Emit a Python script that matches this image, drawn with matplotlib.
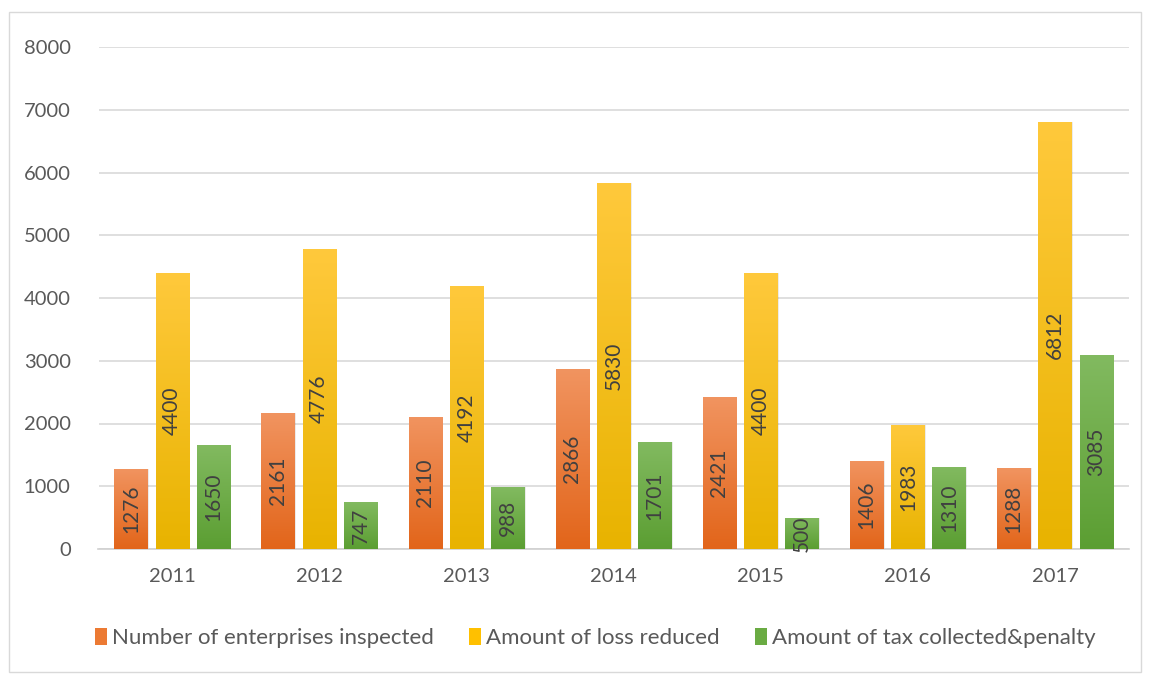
import matplotlib
matplotlib.use("Agg")
import matplotlib.pyplot as plt
import numpy as np
from matplotlib.patches import Rectangle
from matplotlib.colors import LinearSegmentedColormap

years = ["2011", "2012", "2013", "2014", "2015", "2016", "2017"]
enterprises = [1276, 2161, 2110, 2866, 2421, 1406, 1288]
loss_reduced = [4400, 4776, 4192, 5830, 4400, 1983, 6812]
tax_penalty = [1650, 747, 988, 1701, 500, 1310, 3085]
series_names = ["Number of enterprises inspected", "Amount of loss reduced",
                "Amount of tax collected&penalty"]
yticks = [0, 1000, 2000, 3000, 4000, 5000, 6000, 7000, 8000]

plt.rcParams['font.family'] = ['Lato', 'DejaVu Sans']
txt = '#595959'

fig = plt.figure(figsize=(11.51, 6.77), dpi=100)
W, H = 1151, 677
ax = fig.add_axes([98.5 / W, 1 - 549 / H, (1128.5 - 98.5) / W, (549 - 47) / H])

series = [enterprises, loss_reduced, tax_penalty]
grads = [('#E2651A', '#F19460'), ('#E8B300', '#FFC93C'), ('#5B9E32', '#82BA60')]
legend_colors = ['#EC7A33', '#FFC000', '#6AAB43']
bw = 0.225
step = 0.28
x = np.arange(len(years))

for i, (vals, (c0, c1)) in enumerate(zip(series, grads)):
    cmap = LinearSegmentedColormap.from_list('g%d' % i, [c0, c1])
    for j, v in enumerate(vals):
        xc = x[j] + (i - 1) * step
        left = xc - bw / 2
        sh = Rectangle((left + 0.01, 0), bw, v, facecolor='#000000', alpha=0.08,
                       edgecolor='none', zorder=2)
        ax.add_patch(sh)
        rect = Rectangle((left, 0), bw, v, facecolor='none', edgecolor='none', zorder=3)
        ax.add_patch(rect)
        grad = np.linspace(0, 1, 256).reshape(-1, 1)
        im = ax.imshow(grad, cmap=cmap, origin='lower', aspect='auto',
                       extent=[left, left + bw, 0, v], zorder=3)
        im.set_clip_path(rect)
        ax.text(xc, v / 2, str(v), rotation=90, ha='center', va='center',
                fontsize=15, color='#404040', zorder=5)

ax.set_xlim(-0.5, len(years) - 0.5)
ax.set_ylim(0, 8000)
ax.set_yticks(yticks)
ax.set_yticklabels([str(t) for t in yticks])
ax.set_xticks(x)
ax.set_xticklabels(years)
ax.tick_params(axis='both', length=0, labelsize=14.5, colors=txt)
ax.tick_params(axis='y', pad=20)
ax.tick_params(axis='x', pad=14)
for s in ['top', 'right', 'left']:
    ax.spines[s].set_visible(False)
ax.spines['bottom'].set_color('#D0D0D0')
ax.spines['bottom'].set_linewidth(1.2)
ax.grid(axis='y', color='#D9D9D9', linewidth=1.2, zorder=0)
ax.set_axisbelow(True)

handles = [Rectangle((0, 0), 1, 1, facecolor=c) for c in legend_colors]
fig.legend(handles, series_names, loc='center', bbox_to_anchor=(0.517, 1 - 638 / H),
           ncol=3, frameon=False, fontsize=16, labelcolor=txt,
           handlelength=0.55, handleheight=0.8, handletextpad=0.2, columnspacing=1.6)

border = Rectangle((9 / W, 1 - 672 / H), (1141 - 9) / W, (672 - 12) / H,
                   transform=fig.transFigure, facecolor='none', edgecolor='#D9D9D9',
                   linewidth=1.0)
fig.patches.append(border)

fig.savefig('out.png', dpi=100)
